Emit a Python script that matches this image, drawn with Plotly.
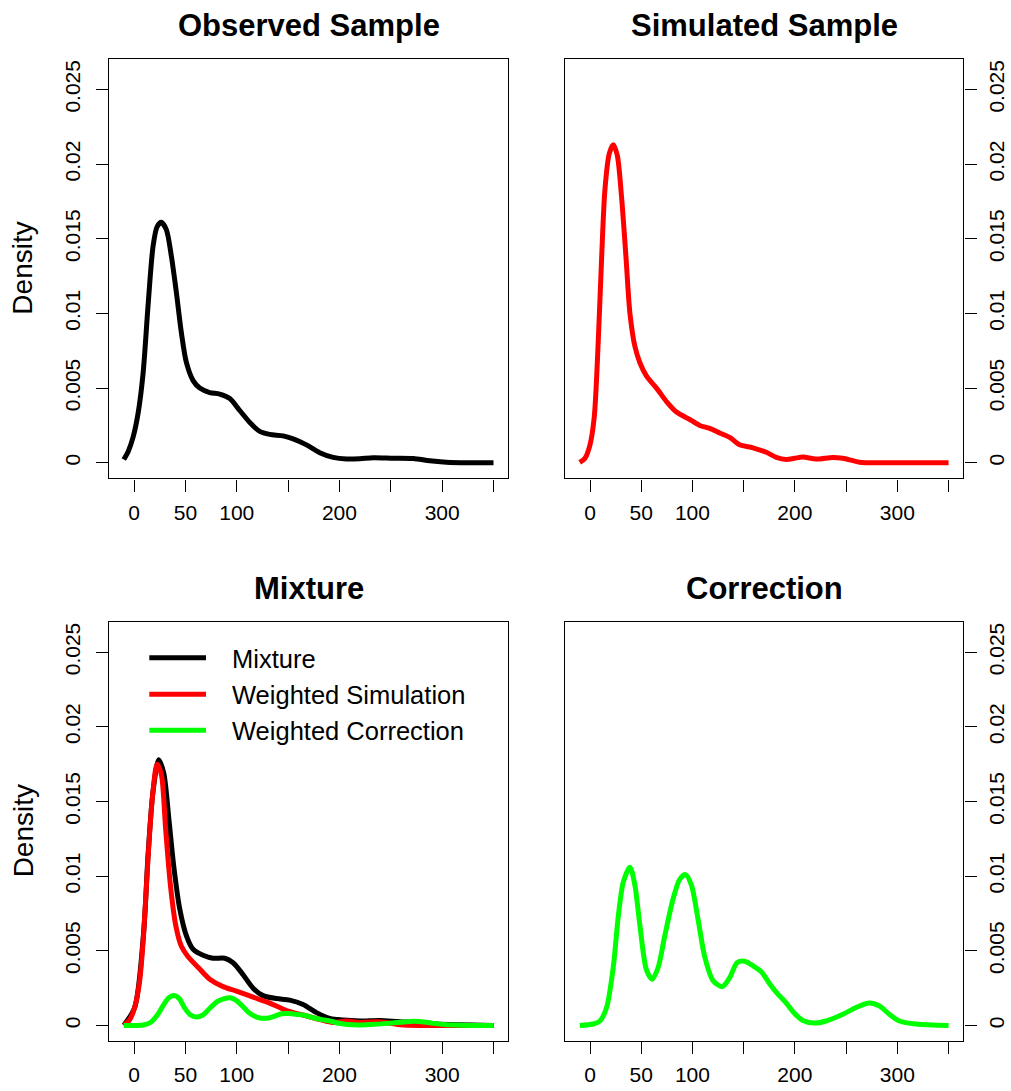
import plotly.graph_objects as go

W, H = 1011, 1091

# ---------------- data ----------------
obs_x = [-10, -5.8, -1, 3.9, 8.8, 13.6, 18.5, 22.4, 26.6, 31.5, 36.4, 41.2, 46.1, 51, 57.5, 64,
         73.7, 83.4, 93.2, 102.9, 112.7, 122.4, 132.1, 145.1, 154.9, 167.9, 180.8, 193.8, 206.8,
         219.8, 232.8, 252.3, 271.8, 288, 304, 323.7, 350]
obs_y = [0.00022, 0.00074, 0.0017, 0.0033, 0.006, 0.0105, 0.0145, 0.0158, 0.0161, 0.0156, 0.0138,
         0.0114, 0.0087, 0.0067, 0.0055, 0.005, 0.0047, 0.0046, 0.0043, 0.0035, 0.0027, 0.0021,
         0.0019, 0.0018, 0.0016, 0.0012, 0.00067, 0.00036, 0.00025, 0.00027, 0.00034, 0.00031,
         0.00029, 0.00013, 0.00004, 0.0, 0.0]

sim_x = [-10, -4.9, 0, 4.2, 8.1, 11.4, 14.6, 18.8, 22.7, 26.6, 30.8, 35.1, 39, 43.8, 48.7, 55.2,
         64.9, 74.7, 84.4, 97.4, 107.1, 116.9, 126.6, 136.4, 146.1, 159.1, 172.1, 181.8, 191.6,
         199.7, 207.8, 220.8, 237, 246.8, 263, 285.7, 350]
sim_y = [0.00002, 0.0003, 0.0012, 0.0031, 0.0082, 0.0138, 0.0183, 0.0207, 0.0213, 0.0206, 0.0178,
         0.0138, 0.0100, 0.0078, 0.0067, 0.0058, 0.005, 0.0041, 0.0034, 0.0029, 0.0025, 0.0023,
         0.002, 0.0017, 0.0012, 0.001, 0.0007, 0.00036, 0.00022, 0.0003, 0.00038, 0.00025, 0.00036,
         0.0003, 0.00004, 0.0, 0.0]

cor_x = [-10, 3.2, 9.7, 16.2, 22.7, 27.6, 32.5, 39, 43.8, 48.7, 55.2, 60.7, 66.6, 73, 81.2, 87.7,
         93.2, 99, 105.5, 112, 120.1, 129.2, 136.4, 143.5, 151, 159.1, 167.2, 175.3, 183.4, 191.6,
         199.7, 207.8, 219.2, 230.5, 246.8, 259.7, 272.7, 282.5, 292.2, 302, 318.2, 350]
cor_y = [0.0, 0.0001, 0.0003, 0.0012, 0.0039, 0.0073, 0.0096, 0.0106, 0.0094, 0.0067, 0.0037,
         0.0031, 0.0039, 0.006, 0.0085, 0.0098, 0.0101, 0.0094, 0.0071, 0.0046, 0.003, 0.0026,
         0.0032, 0.0042, 0.0043, 0.004, 0.0036, 0.0028, 0.0021, 0.0015, 0.0008, 0.00034, 0.00016,
         0.0003, 0.00075, 0.0012, 0.0015, 0.0013, 0.00075, 0.0003, 0.0001, 0.0]

mix_x = [-10, 0.6, 9.4, 13.6, 18.5, 24, 28.9, 33.8, 38.6, 44.5, 51, 57.5, 67.2, 76.9, 88.3, 96.4,
         106.2, 115.9, 125.6, 138.6, 151.6, 164.6, 177.6, 190.6, 203.6, 219.8, 239.3, 258.8, 278.2,
         294.5, 350]
mix_y = [0.00002, 0.0012, 0.0063, 0.0114, 0.0157, 0.0178, 0.0169, 0.0139, 0.0107, 0.0078, 0.006,
         0.0051, 0.0047, 0.0045, 0.0045, 0.0042, 0.0034, 0.0025, 0.002, 0.0018, 0.0017, 0.0014,
         0.00086, 0.00048, 0.00036, 0.0003, 0.00034, 0.00025, 0.0002, 0.0001, 0.0]

wsim_x = [-10, -4.2, 0.6, 5.5, 9.4, 13.6, 17.9, 22.4, 26.6, 30.8, 35.4, 40.6, 46.1, 52.6, 62.3,
          73.7, 86.7, 99.7, 115.9, 132.1, 148.4, 164.6, 180.8, 193.8, 206.8, 219.8, 239.3, 258.8, 350]
wsim_y = [0.0, 0.0004, 0.0012, 0.003, 0.0062, 0.0112, 0.0153, 0.0175, 0.0168, 0.0131, 0.0094,
          0.0067, 0.0053, 0.0046, 0.0039, 0.0031, 0.0026, 0.0023, 0.0019, 0.0015, 0.001, 0.0007,
          0.0004, 0.0002, 0.0003, 0.0002, 0.00025, 0.00005, 0.0]

wcor_x = [-10, 3, 10, 16, 22.7, 28, 33, 38.6, 44, 49, 55, 60.7, 67, 73, 81, 88, 93.2, 99, 105.5,
          112, 120, 129, 136, 143.5, 151, 159, 167, 175, 183, 191.6, 199.7, 207.8, 219, 230, 247,
          260, 272.7, 282.5, 292, 302, 318, 350]
wcor_y = [0.0, 0.0, 0.00005, 0.0002, 0.0007, 0.0013, 0.0018, 0.002, 0.0018, 0.0012, 0.0007,
          0.00057, 0.0007, 0.0011, 0.0016, 0.0018, 0.00186, 0.0017, 0.0013, 0.00085, 0.00055,
          0.00048, 0.0006, 0.00078, 0.0008, 0.00074, 0.00067, 0.0005, 0.00039, 0.00028, 0.00015,
          0.00006, 0.00003, 0.00006, 0.00014, 0.00022, 0.00028, 0.00024, 0.00014, 0.00006,
          0.00002, 0.0]

titles = ["Observed Sample", "Simulated Sample", "Mixture", "Correction"]
legend_labels = ["Mixture", "Weighted Simulation", "Weighted Correction"]
x_tickvals = [0, 50, 100, 150, 200, 250, 300, 350]
x_ticktext = ["0", "50", "100", "", "200", "", "300", ""]
y_tickvals = [0, 0.005, 0.01, 0.015, 0.02, 0.025]
y_ticktext = ["0", "0.005", "0.01", "0.015", "0.02", "0.025"]
y_title = "Density"

BLACK, RED, GREEN = "#000000", "#FF0000", "#00FF00"
FONT = "Liberation Sans, Arial, Helvetica, sans-serif"
LW = 5

# ---------------- layout geometry (pixels) ----------------
def px(x):
    return x / W

def py(y):
    return 1 - y / H

cols = [(109, 508.3), (565, 963.3)]
rows = [(59, 478.3), (621.7, 1041)]
XR = [-24.4, 364.4]
YR = [-0.00104, 0.02704]

fig = go.Figure()
layout = dict(width=W, height=H, margin=dict(l=0, r=0, t=0, b=0),
              paper_bgcolor="white", plot_bgcolor="white", showlegend=False,
              font=dict(family=FONT, color="black"))

panels = []
k = 0
for r in range(2):
    for c in range(2):
        k += 1
        sfx = "" if k == 1 else str(k)
        layout["xaxis" + sfx] = dict(domain=[px(cols[c][0]), px(cols[c][1])], range=XR, anchor="y" + sfx,
                                     tickmode="array", tickvals=x_tickvals, ticktext=x_ticktext,
                                     ticks="outside", ticklen=12, tickwidth=1.4, tickcolor="black",
                                     ticklabelstandoff=3,
                                     showline=True, mirror=True, linecolor="black", linewidth=1.4,
                                     showgrid=False, zeroline=False, tickfont=dict(size=21, family=FONT))
        layout["yaxis" + sfx] = dict(domain=[py(rows[r][1]), py(rows[r][0])], range=YR, anchor="x" + sfx,
                                     side="left" if c == 0 else "right",
                                     tickmode="array", tickvals=y_tickvals, ticktext=y_ticktext, tickangle=-90,
                                     ticks="outside", ticklen=12, tickwidth=1.4, tickcolor="black",
                                     ticklabelstandoff=7 if c == 0 else 2,
                                     showline=True, mirror=True, linecolor="black", linewidth=1.4,
                                     showgrid=False, zeroline=False, tickfont=dict(size=21, family=FONT))
        panels.append(("x" + sfx, "y" + sfx))

def add(x, y, color, p):
    fig.add_trace(go.Scatter(x=x, y=y, mode="lines",
                             line=dict(color=color, width=LW, shape="spline", smoothing=0.8),
                             xaxis=panels[p][0], yaxis=panels[p][1], hoverinfo="skip"))

add(obs_x, obs_y, BLACK, 0)
add(sim_x, sim_y, RED, 1)
add(mix_x, mix_y, BLACK, 2)
add(wsim_x, wsim_y, RED, 2)
add(wcor_x, wcor_y, GREEN, 2)
add(cor_x, cor_y, GREEN, 3)

ann = []
i = 0
for r in range(2):
    for c in range(2):
        cx = (cols[c][0] + cols[c][1]) / 2
        ann.append(dict(text=f"<b>{titles[i]}</b>", x=px(cx), y=py(rows[r][0] - 33), xref="paper", yref="paper",
                        xanchor="center", yanchor="middle", showarrow=False, font=dict(size=31, family=FONT)))
        i += 1
for r in range(2):
    cy = (rows[r][0] + rows[r][1]) / 2
    ann.append(dict(text=y_title, x=px(23), y=py(cy), xref="paper", yref="paper", textangle=-90,
                    xanchor="center", yanchor="middle", showarrow=False, font=dict(size=28, family=FONT)))

shapes = []
leg_y = [657.7, 694.3, 730.3]
leg_c = [BLACK, RED, GREEN]
for lab, yy, col in zip(legend_labels, leg_y, leg_c):
    shapes.append(dict(type="line", xref="paper", yref="paper", x0=px(149.3), x1=px(206), y0=py(yy), y1=py(yy),
                       line=dict(color=col, width=LW)))
    ann.append(dict(text=lab, x=px(230), y=py(yy + 1), xref="paper", yref="paper", xanchor="left",
                    yanchor="middle", showarrow=False, font=dict(size=25.5, family=FONT)))

layout["annotations"] = ann
layout["shapes"] = shapes
fig.update_layout(**layout)
fig.write_html("out.html")
